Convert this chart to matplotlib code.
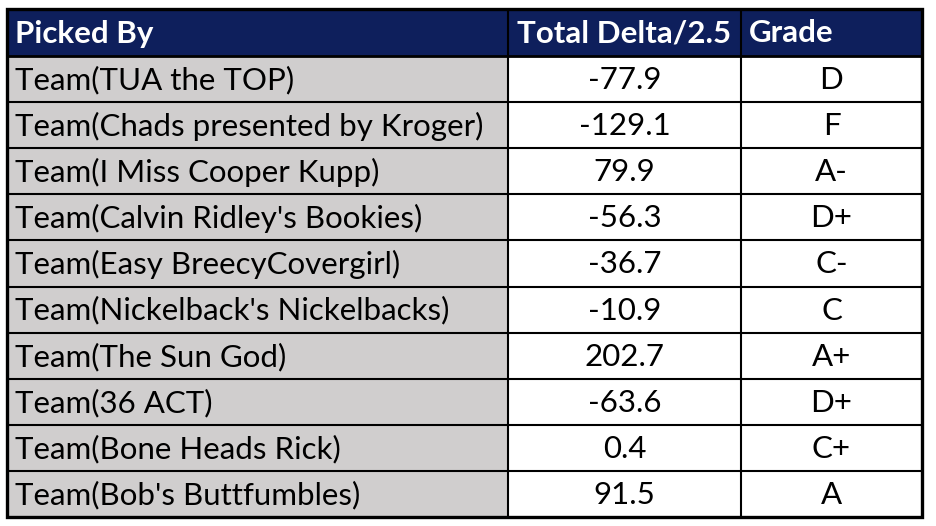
import matplotlib
matplotlib.use("Agg")
import matplotlib.pyplot as plt
from matplotlib.patches import Rectangle

headers = ["Picked By", "Total Delta/2.5", "Grade"]
teams = ["Team(TUA the TOP)", "Team(Chads presented by Kroger)", "Team(I Miss Cooper Kupp)",
         "Team(Calvin Ridley's Bookies)", "Team(Easy BreecyCovergirl)", "Team(Nickelback's Nickelbacks)",
         "Team(The Sun God)", "Team(36 ACT)", "Team(Bone Heads Rick)", "Team(Bob's Buttfumbles)"]
deltas = [-77.9, -129.1, 79.9, -56.3, -36.7, -10.9, 202.7, -63.6, 0.4, 91.5]
grades = ["D", "F", "A-", "D+", "C-", "C", "A+", "D+", "C+", "A"]

W, H = 936, 526
fig = plt.figure(figsize=(W/100, H/100), dpi=100)
ax = fig.add_axes([0, 0, 1, 1])
ax.set_xlim(0, W)
ax.set_ylim(H, 0)
ax.axis("off")

FONT = "Lato"
FS = 22.5
NAVY = "#0E1F5C"
GRAY = "#D0CECE"

col_x = [7, 508, 741, 922]
head_top, head_bot = 9, 56
row_h = (517 - head_bot) / len(teams)

# header
ax.add_patch(Rectangle((col_x[0], head_top), col_x[-1]-col_x[0], head_bot-head_top, color=NAVY, lw=0))
hx = [15, 517, 749]
for x, h in zip(hx, headers):
    ax.text(x, (head_top+head_bot)/2 + 1, h, color="white", fontsize=FS, fontweight="bold",
            family=FONT, ha="left", va="center")

for i, (t, d, g) in enumerate(zip(teams, deltas, grades)):
    top = head_bot + i*row_h
    ax.add_patch(Rectangle((col_x[0], top), col_x[1]-col_x[0], row_h, color=GRAY, lw=0))
    yc = top + row_h/2 + 1
    ax.text(15, yc, t, fontsize=FS, family=FONT, ha="left", va="center", color="black")
    ax.text((col_x[1]+col_x[2])/2, yc, f"{d:.1f}", fontsize=FS, family=FONT, ha="center", va="center", color="black")
    ax.text((col_x[2]+col_x[3])/2, yc, g, fontsize=FS, family=FONT, ha="center", va="center", color="black")
    if i > 0:
        ax.plot([col_x[0], col_x[-1]], [top, top], color="black", lw=1.5, solid_capstyle="butt")

ax.plot([col_x[0], col_x[-1]], [head_bot, head_bot], color="black", lw=2.0, solid_capstyle="butt")
for x in col_x[1:-1]:
    ax.plot([x, x], [head_top, 517], color="black", lw=1.5, solid_capstyle="butt")
ax.add_patch(Rectangle((col_x[0], head_top), col_x[-1]-col_x[0], 517-head_top, fill=False,
                       edgecolor="black", lw=2.4, joinstyle="miter"))

fig.savefig("out.png", dpi=100, facecolor="white")
